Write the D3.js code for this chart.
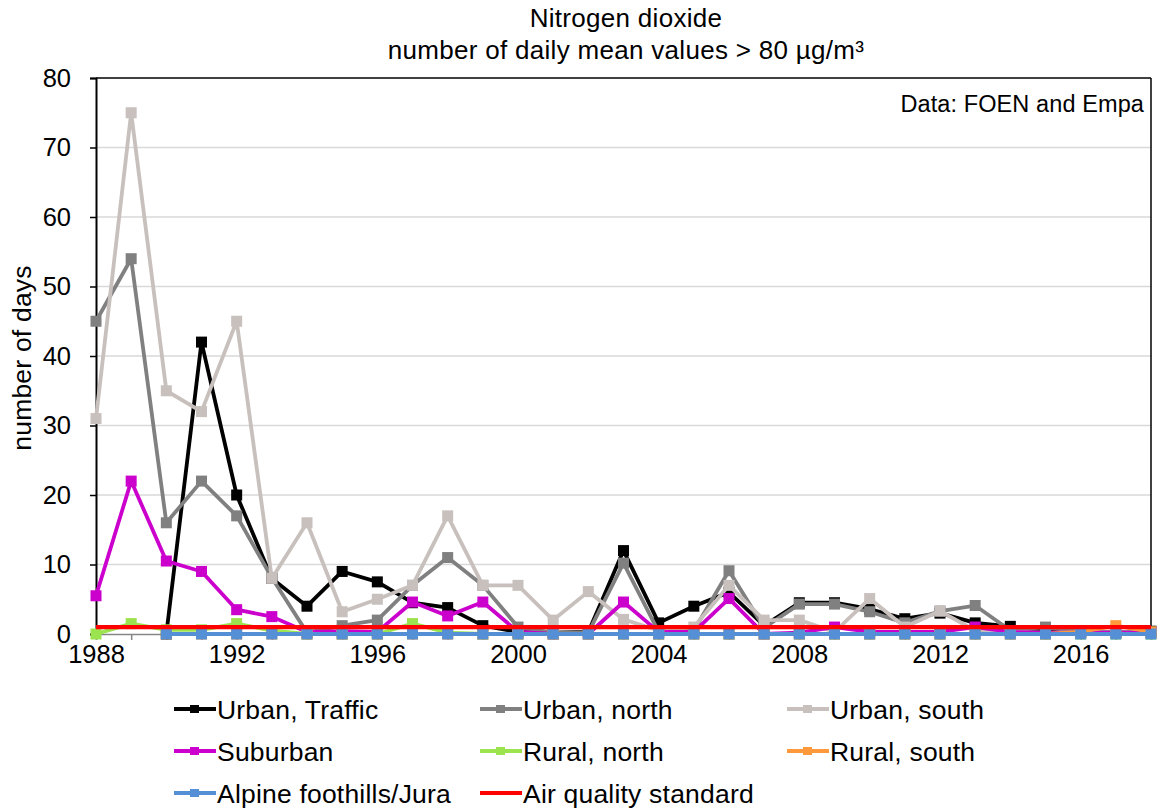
<!DOCTYPE html>
<html>
<head>
<meta charset="utf-8">
<script src="https://cdn.jsdelivr.net/npm/d3@7/dist/d3.min.js"></script>
<style>
  html, body { margin: 0; padding: 0; background: #fff; }
  svg { display: block; }
  text { font-family: "Liberation Sans", Arial, sans-serif; fill: #000; }
</style>
</head>
<body>
<svg id="chart" width="1160" height="809"></svg>
<script>
// ---- Data ----
const years = [1988,1989,1990,1991,1992,1993,1994,1995,1996,1997,1998,1999,2000,2001,2002,2003,2004,2005,2006,2007,2008,2009,2010,2011,2012,2013,2014,2015,2016,2017,2018];
const urbanTraffic = [null,null,0,42,20,8,4,9,7.5,4.5,3.8,1.2,0.3,0.2,0.3,12,1.6,4,6,1.2,4.5,4.5,3.6,2.2,3,1.6,1.1,0.4,0.2,0.2,0.4];
const urbanNorth   = [45,54,16,22,17,8.1,0.2,1.2,2,7,11,7,1,0.2,0.2,10.2,0.3,0.5,9.1,0.9,4.3,4.3,3.2,1.6,3.3,4.1,0.5,1,0.3,0.3,0.3];
const urbanSouth   = [31,75,35,32,45,8,16,3.2,5,7,17,7,7,2,6.1,2.1,0.5,1,7,2,2,0.3,5.1,1,3.3,0.5,0.3,0.2,0.2,0.2,0.2];
const suburban     = [5.5,22,10.5,9,3.5,2.5,0.3,0.4,0.3,4.6,2.6,4.6,0.3,0,0,4.6,0.3,0.3,5.1,0,0.2,1,0.3,0.3,0.3,1,0.3,0.2,0.2,0.2,0.2];
const ruralNorth   = [0,1.5,0.6,0.6,1.5,0.5,0,0,0,1.5,0.2,0,0,0,0,0,0,0,0,0,0,0,0,0,0,0,0,0,0,0,0];
const ruralSouth   = [null,null,0,0,0,0,0,0,0,0,0,0,0,0,0,0,0,0,0,0,0,0,0,0,0,0,0,0,0.3,1.2,0.3];
const alpine       = [null,null,0,0,0,0,0,0,0,0,0,0,0,0,0,0,0,0,0,0,0,0,0,0,0,0,0,0,0,0,0];
const standard     = [1,1,1,1,1,1,1,1,1,1,1,1,1,1,1,1,1,1,1,1,1,1,1,1,1,1,1,1,1,1,1];

const yTicks = [0,10,20,30,40,50,60,70,80];
const xTickLabels = [1988,1992,1996,2000,2004,2008,2012,2016];

const seriesNames  = ["Urban, Traffic","Urban, north","Urban, south","Suburban","Rural, north","Rural, south","Alpine foothills/Jura","Air quality standard"];
const seriesValues = [urbanTraffic, urbanNorth, urbanSouth, suburban, ruralNorth, ruralSouth, alpine, standard];
const seriesColors = ["#000000","#808080","#c8c0bd","#cc00cc","#9be34f","#ff9a3c","#5590d6","#ff0000"];
const seriesMarkers = [true,true,true,true,true,true,true,false];

const titleLines = ["Nitrogen dioxide","number of daily mean values > 80 µg/m³"];

(function () {
// ---- Layout ----
const svg = d3.select("#chart");
const pL = 96, pR = 1151, pT = 78, pB = 634;

const x = d3.scaleLinear().domain([1988, 2018]).range([pL, pR]);
const y = d3.scaleLinear().domain([0, 80]).range([pB, pT]);

// gridlines
svg.append("g")
  .selectAll("line")
  .data(yTicks.filter(d => d > 0 && d < 80))
  .join("line")
  .attr("x1", pL).attr("x2", pR)
  .attr("y1", d => y(d)).attr("y2", d => y(d))
  .attr("stroke", "#d9d9d9").attr("stroke-width", 1.5);

// frame top & right
svg.append("line").attr("x1", pL).attr("x2", pR).attr("y1", pT).attr("y2", pT)
  .attr("stroke", "#000").attr("stroke-width", 1.5);
svg.append("line").attr("x1", pR).attr("x2", pR).attr("y1", pT).attr("y2", pB)
  .attr("stroke", "#000").attr("stroke-width", 1.5);

// x axis (gray, ticks every year)
const xAxis = d3.axisBottom(x)
  .tickValues(years)
  .tickSize(6)
  .tickFormat(d => xTickLabels.includes(d) ? String(d) : "");
const gx = svg.append("g").attr("transform", `translate(0,${pB})`).call(xAxis);
gx.select(".domain").attr("stroke", "#868686").attr("stroke-width", 1.5);
gx.selectAll(".tick line").attr("stroke", "#868686").attr("stroke-width", 1.5);
gx.selectAll(".tick text")
  .attr("font-family", "Liberation Sans, Arial, sans-serif")
  .attr("font-size", 25.5).attr("fill", "#000").attr("dy", "0.95em").attr("y", 5);

// y axis
const yAxis = d3.axisLeft(y).tickValues(yTicks).tickSize(6).tickPadding(19);
const gy = svg.append("g").attr("transform", `translate(${pL},0)`).call(yAxis);
gy.select(".domain").attr("stroke", "#000").attr("stroke-width", 2);
gy.selectAll(".tick line").attr("stroke", "#000").attr("stroke-width", 1.5);
gy.selectAll(".tick text")
  .attr("font-family", "Liberation Sans, Arial, sans-serif")
  .attr("font-size", 25.5).attr("fill", "#000");

// y axis title
svg.append("text")
  .attr("transform", `translate(31,${(pT + pB) / 2 + 2}) rotate(-90)`)
  .attr("text-anchor", "middle")
  .attr("font-size", 26.5).attr("letter-spacing", 0.2)
  .text("number of days");

// title
svg.append("g").selectAll("text").data(titleLines).join("text")
  .attr("x", 626).attr("y", (d, i) => 27 + i * 32)
  .attr("text-anchor", "middle")
  .attr("font-size", 26).attr("letter-spacing", 0.3)
  .text(d => d);

// data note
svg.append("text")
  .attr("x", 1144).attr("y", 112)
  .attr("text-anchor", "end")
  .attr("font-size", 23.5).attr("letter-spacing", 0.1)
  .text("Data: FOEN and Empa");

// series
const plot = svg.append("g");
seriesValues.forEach((vals, si) => {
  const pts = years.map((yr, i) => ({ yr, v: vals[i] }));
  const line = d3.line()
    .defined(d => d.v !== null)
    .x(d => x(d.yr))
    .y(d => y(d.v));
  plot.append("path")
    .datum(pts)
    .attr("fill", "none")
    .attr("stroke", seriesColors[si])
    .attr("stroke-width", si === 7 ? 4.3 : 3.8)
    .attr("stroke-linejoin", "round")
    .attr("d", line);
  if (seriesMarkers[si]) {
    plot.append("g").selectAll("rect")
      .data(pts.filter(d => d.v !== null))
      .join("rect")
      .attr("x", d => x(d.yr) - 5.5)
      .attr("y", d => y(d.v) - 5.5)
      .attr("width", 11).attr("height", 11)
      .attr("fill", seriesColors[si]);
  }
});

// legend
const legCols = [174, 480, 787];
const legRows = [709, 751, 793];
const leg = svg.append("g");
seriesNames.forEach((name, i) => {
  const cx = legCols[i % 3], cy = legRows[Math.floor(i / 3)];
  const g = leg.append("g").attr("transform", `translate(${cx},${cy})`);
  g.append("line").attr("x1", 0).attr("x2", 42).attr("y1", 0).attr("y2", 0)
    .attr("stroke", seriesColors[i]).attr("stroke-width", 4);
  if (seriesMarkers[i]) {
    g.append("rect").attr("x", 16).attr("y", -4).attr("width", 9).attr("height", 8)
      .attr("fill", seriesColors[i]);
  }
  g.append("text").attr("x", 43).attr("y", 0).attr("dy", "0.36em")
    .attr("font-size", 26.5).attr("letter-spacing", 0.2)
    .text(name);
});
})();
</script>
</body>
</html>
